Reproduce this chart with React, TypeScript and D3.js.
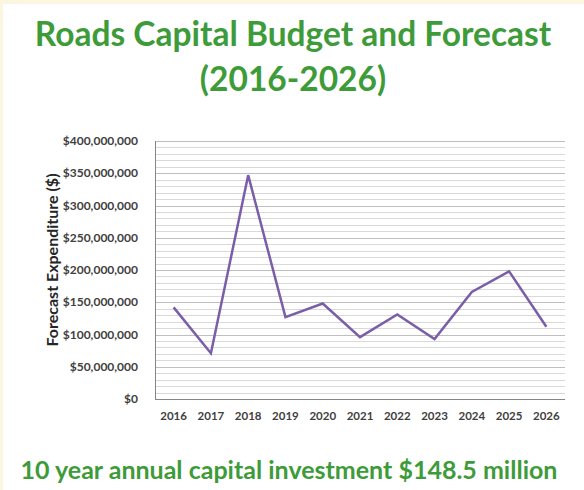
import React from "react";
import * as d3 from "d3";

// chart data
const years = ["2016", "2017", "2018", "2019", "2020", "2021", "2022", "2023", "2024", "2025", "2026"];
const expenditure = [142e6, 71e6, 347e6, 127e6, 148e6, 96e6, 131e6, 93e6, 166e6, 198e6, 112e6];
const yTicks = [0, 50e6, 100e6, 150e6, 200e6, 250e6, 300e6, 350e6, 400e6];
const minorStep = 10e6;

const W = 584;
const H = 490;
const margin = { top: 141, right: 19, bottom: 91, left: 155 };

const green = "#3e9b3a";
const purple = "#7b5ea8";
const font = "Lato, 'Open Sans', sans-serif";

export default function App() {
  const innerW = W - margin.left - margin.right;
  const innerH = H - margin.top - margin.bottom;

  const x = d3.scaleBand().domain(years).range([0, innerW]).padding(0);
  const y = d3.scaleLinear().domain([0, 400e6]).range([innerH, 0]);

  const minor = d3.range(0, 400e6 + 1, minorStep);
  const fmt = (v: number) => "$" + d3.format(",")(v);

  const line = d3
    .line<number>()
    .x((_, i) => (x(years[i]) as number) + x.bandwidth() / 2)
    .y((d) => y(d));

  return (
    <div style={{ position: "absolute", left: 0, top: 0 }}>
      <svg width={W} height={H} style={{ display: "block" }}>
        <rect x={0} y={0} width={W} height={H} fill="#faf6e2" />
        <rect x={3} y={4} width={W - 3} height={H - 4} fill="#ffffff" />

        <g fontFamily={font} fontWeight="bold" fill={green} textAnchor="middle">
          <text x={293} y={46} fontSize={33.5}>
            Roads Capital Budget and Forecast
          </text>
          <text x={293} y={91} fontSize={33.5}>
            (2016-2026)
          </text>
          <text x={289} y={479} fontSize={25}>
            10 year annual capital investment $148.5 million
          </text>
        </g>

        <g transform={`translate(${margin.left},${margin.top})`}>
          {minor.map((v) => (
            <line
              key={v}
              x1={0}
              x2={innerW}
              y1={Math.round(y(v)) + 0.5}
              y2={Math.round(y(v)) + 0.5}
              stroke={v % 50e6 === 0 ? "#bfbfbf" : "#d9d9d9"}
              strokeWidth={1}
            />
          ))}
          <line x1={0.5} x2={0.5} y1={0} y2={innerH} stroke="#868686" />
          <line x1={0} x2={innerW} y1={innerH + 0.5} y2={innerH + 0.5} stroke="#868686" />

          <path d={line(expenditure) || ""} fill="none" stroke={purple} strokeWidth={2.5} strokeLinejoin="miter" />

          <g fontFamily={font} fontWeight="bold" fill="#404040">
            {yTicks.map((v) => (
              <text key={v} x={-17} y={y(v)} dy="0.35em" textAnchor="end" fontSize={12}>
                {fmt(v)}
              </text>
            ))}
            {years.map((yr) => (
              <text
                key={yr}
                x={(x(yr) as number) + x.bandwidth() / 2}
                y={innerH + 21}
                textAnchor="middle"
                fontSize={11.5}
              >
                {yr}
              </text>
            ))}
          </g>
        </g>

        <text
          transform="translate(57.5,260) rotate(-90)"
          textAnchor="middle"
          fontFamily={font}
          fontWeight="bold"
          fontSize={16}
          fill="#262626"
        >
          Forecast Expenditure ($)
        </text>
      </svg>
    </div>
  );
}
